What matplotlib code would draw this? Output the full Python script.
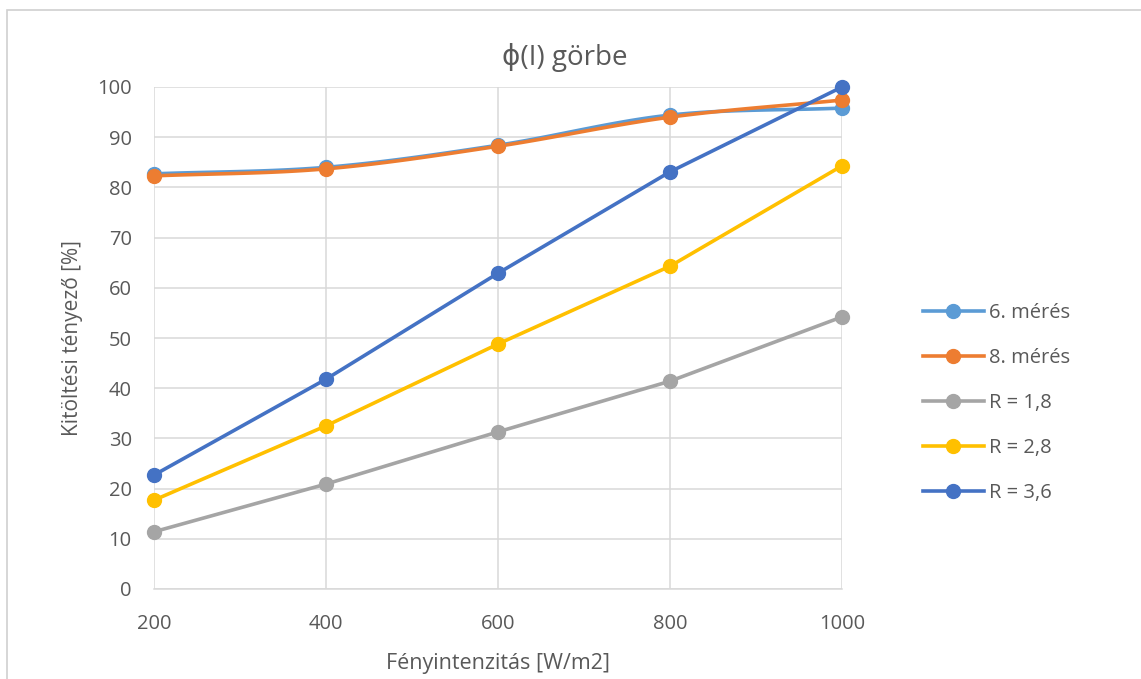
import numpy as np
import matplotlib.pyplot as plt
from matplotlib.patches import Rectangle

# data
intensity = [200, 400, 600, 800, 1000]
meres_6 = [82.7, 84.0, 88.4, 94.4, 95.8]
meres_8 = [82.3, 83.7, 88.2, 94.0, 97.4]
r_18 = [11.4, 20.9, 31.3, 41.4, 54.2]
r_28 = [17.7, 32.5, 48.8, 64.3, 84.3]
r_36 = [22.7, 41.8, 62.9, 83.1, 100.0]

labels = ['6. mérés', '8. mérés', 'R = 1,8', 'R = 2,8', 'R = 3,6']
colors = ['#5B9BD5', '#ED7D31', '#A5A5A5', '#FFC000', '#4472C4']
smooth = [True, True, False, False, False]

text_col = '#595959'
plt.rcParams['font.family'] = ['Open Sans', 'DejaVu Sans']


def catmull_rom(x, y, n=30):
    # smoothed line through the points, like Excel's "smoothed line"
    x = np.asarray(x, float)
    y = np.asarray(y, float)
    px = np.concatenate([[2*x[0]-x[1]], x, [2*x[-1]-x[-2]]])
    py = np.concatenate([[2*y[0]-y[1]], y, [2*y[-1]-y[-2]]])
    xs, ys = [], []
    t = np.linspace(0, 1, n)
    for i in range(1, len(px)-2):
        for p, out in ((px, xs), (py, ys)):
            p0, p1, p2, p3 = p[i-1], p[i], p[i+1], p[i+2]
            out.extend(0.5*((2*p1) + (-p0+p2)*t + (2*p0-5*p1+4*p2-p3)*t**2 + (-p0+3*p1-3*p2+p3)*t**3))
    return np.array(xs), np.array(ys)


fig = plt.figure(figsize=(11.41, 6.79), dpi=100)
fig.patches.append(Rectangle((7/1141, -0.1), 1.2, (679-10)/679 + 0.1, transform=fig.transFigure,
                             fill=False, edgecolor='#d0d0d0', linewidth=1.2))

ax = fig.add_axes([154/1141, 90/679, (842-154)/1141, (589-87)/679])

series = [meres_6, meres_8, r_18, r_28, r_36]
for vals, lab, col, sm in zip(series, labels, colors, smooth):
    if sm:
        sx, sy = catmull_rom(intensity, vals)
    else:
        sx, sy = intensity, vals
    ax.plot(sx, sy, color=col, linewidth=2.6, solid_capstyle='round', zorder=3, clip_on=False)
    ax.plot(intensity, vals, 'o', color=col, markersize=10, zorder=4, clip_on=False)
    ax.plot([], [], '-o', color=col, linewidth=2.6, markersize=10, label=lab)

ax.set_xlim(200, 1000)
ax.set_ylim(0, 100)
ax.set_xticks(intensity)
ax.set_yticks(range(0, 101, 10))
ax.grid(True, color='#d9d9d9', linewidth=1.1, zorder=0)
ax.set_axisbelow(True)
for s in ['top', 'right', 'left']:
    ax.spines[s].set_visible(False)
ax.spines['bottom'].set_color('#d9d9d9')
ax.spines['bottom'].set_linewidth(1.1)
ax.tick_params(length=0, labelsize=14.5, labelcolor=text_col)
ax.tick_params(axis='x', pad=18)
ax.tick_params(axis='y', pad=16)

fig.text(565/1141, 1 - 57/679, 'ϕ(I) görbe', fontsize=20, color=text_col, ha='center', va='center')
ax.set_xlabel('Fényintenzitás [W/m2]', fontsize=15.5, color=text_col, labelpad=14)
ax.set_ylabel('Kitöltési tényező [%]', fontsize=15, color=text_col, labelpad=10)

leg = fig.legend(loc='center left', bbox_to_anchor=(905/1141, 1 - 403/679), frameon=False,
                 fontsize=14.5, labelcolor=text_col, handlelength=3.0, labelspacing=1.25,
                 handletextpad=0.25)

fig.savefig('out.png', dpi=100)
